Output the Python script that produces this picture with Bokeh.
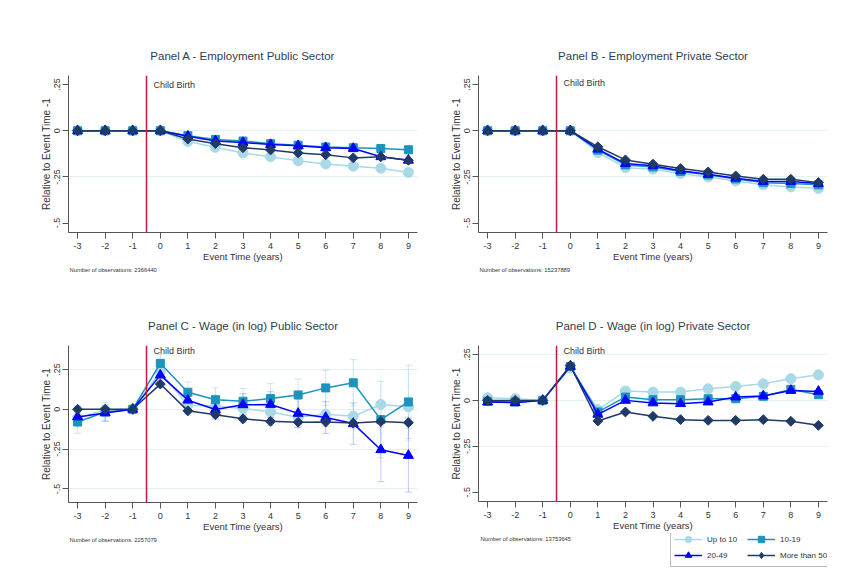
import numpy as np
from bokeh.plotting import figure
from bokeh.layouts import column, row
from bokeh.models import (Range1d, FixedTicker, Span, Label, Title, Legend, LegendItem,
                          ColumnDataSource, Whisker, TeeHead)
from bokeh.embed import file_html
from bokeh.resources import INLINE

event_time = [-3, -2, -1, 0, 1, 2, 3, 4, 5, 6, 7, 8, 9]
x_tick_labels = {-3: "-3", -2: "-2", -1: "-1", 0: "0", 1: "1", 2: "2", 3: "3",
                 4: "4", 5: "5", 6: "6", 7: "7", 8: "8", 9: "9"}
series_labels = ["Up to 10", "10-19", "20-49", "More than 50"]
y_ticks = [-0.5, -0.25, 0, 0.25]
y_tick_labels = {-0.5: "-.5", -0.25: "-.25", 0: "0", 0.25: ".25"}

# Panel A - Employment Public Sector
a_up10 = [0, 0, 0, 0, -0.058, -0.09, -0.12, -0.141, -0.163, -0.18, -0.192, -0.203, -0.226]
a_10_19 = [0, 0, 0, 0, -0.027, -0.047, -0.056, -0.07, -0.078, -0.088, -0.092, -0.096, -0.103]
a_20_49 = [0, 0, 0, 0, -0.03, -0.055, -0.064, -0.075, -0.082, -0.092, -0.096, -0.141, -0.16]
a_50 = [0, 0, 0, 0, -0.045, -0.07, -0.092, -0.104, -0.12, -0.13, -0.147, -0.141, -0.16]

# Panel B - Employment Private Sector
b_up10 = [0, 0, 0, 0, -0.118, -0.2, -0.208, -0.232, -0.25, -0.272, -0.293, -0.304, -0.312]
b_10_19 = [0, 0, 0, 0, -0.105, -0.185, -0.196, -0.221, -0.239, -0.261, -0.281, -0.286, -0.293]
b_20_49 = [0, 0, 0, 0, -0.1, -0.178, -0.19, -0.217, -0.236, -0.257, -0.275, -0.275, -0.286]
b_50 = [0, 0, 0, 0, -0.087, -0.158, -0.181, -0.205, -0.223, -0.245, -0.263, -0.263, -0.281]

# Panel C - Wage (in log) Public Sector
c_up10 = [-0.055, -0.005, 0, 0.235, 0.025, 0.02, 0.005, -0.017, -0.05, -0.032, -0.044, 0.03, 0.015]
c_10_19 = [-0.08, -0.017, 0, 0.288, 0.107, 0.06, 0.05, 0.067, 0.09, 0.134, 0.166, -0.065, 0.046]
c_20_49 = [-0.048, -0.023, 0, 0.214, 0.057, -0.002, 0.028, 0.03, -0.026, -0.052, -0.09, -0.254, -0.29]
c_50 = [0, 0, 0, 0.158, -0.01, -0.034, -0.06, -0.076, -0.081, -0.08, -0.087, -0.077, -0.084]
c_err_up10 = [0.06, 0.06, 0, 0.07, 0.06, 0.07, 0.08, 0.09, 0.1, 0.11, 0.14, 0.18, 0.21]
c_err_10_19 = [0.07, 0.06, 0, 0.055, 0.065, 0.075, 0.08, 0.095, 0.1, 0.11, 0.145, 0.24, 0.23]
c_err_20_49 = [0.05, 0.05, 0, 0.05, 0.05, 0.06, 0.07, 0.08, 0.09, 0.1, 0.13, 0.2, 0.23]
c_err_50 = [0.02, 0.02, 0, 0.02, 0.02, 0.02, 0.025, 0.025, 0.03, 0.03, 0.03, 0.035, 0.035]

# Panel D - Wage (in log) Private Sector
d_up10 = [0.014, 0.009, 0, 0.178, -0.05, 0.051, 0.045, 0.045, 0.063, 0.076, 0.09, 0.118, 0.139]
d_10_19 = [-0.005, -0.009, 0, 0.185, -0.063, 0.018, 0.004, 0.004, 0.009, 0.009, 0.022, 0.06, 0.031]
d_20_49 = [-0.009, -0.013, 0, 0.185, -0.076, 0, -0.014, -0.018, -0.009, 0.018, 0.024, 0.054, 0.049]
d_50 = [0, 0, 0, 0.19, -0.112, -0.063, -0.087, -0.105, -0.109, -0.109, -0.105, -0.114, -0.136]

COLORS = ["#a9d9e7", "#1b93bd", "#0000ff", "#1f3a66"]
MARKERS = [("circle", 10, 0), ("square", 8, 0), ("triangle", 10, 0), ("square", 7, np.pi / 4)]
LEGEND_MARKERS = ["circle", "square", "triangle", "diamond"]
FONT = "Liberation Sans"
TXT = "#333333"


def make_panel(title, series, y_range, grid_ticks, obs_text, cb_y, width, border_left,
               border_right, height, border_top, border_bottom, errs=None):
    p = figure(width=width, height=height, x_range=Range1d(-3.33, 9.33),
               y_range=Range1d(*y_range), output_backend="svg", toolbar_location=None,
               min_border_left=border_left, min_border_right=border_right,
               min_border_top=border_top, min_border_bottom=border_bottom,
               outline_line_color=None, background_fill_color="white",
               border_fill_color="white")
    p.title.text = title
    p.title.align = "center"
    p.title.text_font = FONT
    p.title.text_font_size = "11.5px"
    p.title.text_font_style = "normal"
    p.title.text_color = "#2f3e52"
    p.title.standoff = 27

    p.xaxis.ticker = FixedTicker(ticks=event_time)
    p.xaxis.major_label_overrides = x_tick_labels
    p.yaxis.ticker = FixedTicker(ticks=y_ticks)
    p.yaxis.major_label_overrides = y_tick_labels
    p.yaxis.major_label_orientation = "vertical"
    p.xgrid.visible = False
    p.ygrid.ticker = FixedTicker(ticks=grid_ticks)
    p.ygrid.grid_line_color = "#e2f1f1"
    p.ygrid.grid_line_width = 1
    for ax in (p.xaxis, p.yaxis):
        ax.axis_line_color = "#555555"
        ax.major_tick_line_color = "#555555"
        ax.major_tick_out = 6
        ax.major_tick_in = 0
        ax.minor_tick_line_color = None
        ax.major_label_text_font = FONT
        ax.major_label_text_font_size = "9px"
        ax.major_label_text_color = TXT
        ax.axis_label_text_font = FONT
        ax.axis_label_text_font_style = "normal"
        ax.axis_label_text_color = TXT
    p.xaxis.major_label_standoff = 4
    p.xaxis.axis_label_standoff = -1
    p.yaxis.major_label_standoff = 2
    p.yaxis.axis_label_standoff = 0
    p.xaxis.axis_label = "Event Time (years)"
    p.xaxis.axis_label_text_font_size = "9.5px"
    p.yaxis.axis_label = "Relative to Event Time -1"
    p.yaxis.axis_label_text_font_size = "10px"

    p.add_layout(Span(location=-0.5, dimension="height", line_color="#c8183c", line_width=1.5))
    p.add_layout(Label(x=-0.5, y=cb_y, x_offset=7, text="Child Birth", text_baseline="middle",
                       text_font=FONT, text_font_size="9px", text_color=TXT))
    if obs_text:
        p.add_layout(Title(text=obs_text, align="left", text_font=FONT, text_font_size="5.8px",
                           text_font_style="normal", text_color=TXT, offset=1, standoff=1),
                     "below")

    if errs is not None:
        for vals, err, col in zip(series, errs, COLORS):
            src = ColumnDataSource(dict(x=event_time,
                                        lo=[v - e for v, e in zip(vals, err)],
                                        hi=[v + e for v, e in zip(vals, err)]))
            w = Whisker(source=src, base="x", lower="lo", upper="hi", line_color=col,
                        line_alpha=0.22, line_width=1,
                        upper_head=TeeHead(size=7, line_color=col, line_alpha=0.22),
                        lower_head=TeeHead(size=7, line_color=col, line_alpha=0.22))
            p.add_layout(w)

    for vals, col, (mk, sz, ang) in zip(series, COLORS, MARKERS):
        p.line(event_time, vals, line_color=col, line_width=1.5)
        p.scatter(event_time, vals, marker=mk, size=sz, angle=ang,
                  fill_color=col, line_color=col)
    return p


pA = make_panel("Panel A - Employment Public Sector", [a_up10, a_10_19, a_20_49, a_50],
                (-0.551, 0.299), [0, -0.25], "Number of observations: 2366440", 0.25,
                418, 68, 1, 278, 75, 46)
pB = make_panel("Panel B - Employment Private Sector", [b_up10, b_10_19, b_20_49, b_50],
                (-0.551, 0.299), [0, -0.25], "Number of observations: 15237889", 0.257,
                424, 60, 15, 278, 75, 46)
pC = make_panel("Panel C - Wage (in log) Public Sector", [c_up10, c_10_19, c_20_49, c_50],
                (-0.585, 0.40), [0.25, 0, -0.25, -0.5], "Number of observations: 2257079", 0.367,
                418, 68, 1, 291, 67, 67, errs=[c_err_up10, c_err_10_19, c_err_20_49, c_err_50])
d_series = [d_up10, d_10_19, d_20_49, d_50]
pD = make_panel("Panel D - Wage (in log) Private Sector", d_series,
                (-0.551, 0.299), [0.25, 0, -0.25], None, 0.268,
                424, 60, 15, 255, 67, 31)

# bottom strip under Panel D (frame aligned with Panel D's frame): obs count + legend
strip = figure(width=424, height=36, x_range=Range1d(0, 349), y_range=Range1d(0, 36),
               output_backend="svg", toolbar_location=None,
               min_border_left=60, min_border_right=15, min_border_top=0, min_border_bottom=0,
               x_axis_location=None, y_axis_location=None, outline_line_color=None,
               title=None)
strip.grid.visible = False
strip.add_layout(Label(x=2, y=31, text="Number of observations: 13753645", text_baseline="middle",
                       text_font=FONT, text_font_size="5.8px", text_color=TXT))
items = []
for lab, vals, col, mk in zip(series_labels, d_series, COLORS, LEGEND_MARKERS):
    lr = strip.line(event_time, vals, line_color=col, line_width=1.5, visible=False)
    sr = strip.scatter(event_time, vals, marker=mk, size=8, fill_color=col,
                       line_color=col, visible=False)
    items.append(LegendItem(label=lab, renderers=[lr, sr]))
legend = Legend(items=items, location=(192, 2), orientation="horizontal", ncols=2,
                label_text_font=FONT, label_text_font_size="8px", label_text_color=TXT,
                border_line_color="#777777", border_line_width=1,
                background_fill_color="white", background_fill_alpha=1.0,
                inactive_fill_alpha=0.0,
                margin=0, padding=3, spacing=0, glyph_width=28, glyph_height=16,
                label_width=40, label_height=10, label_standoff=5)
strip.add_layout(legend, "center")

layout = column(row(pA, pB), row(pC, column(pD, strip)))
open("out.html", "w").write(file_html(layout, INLINE))
